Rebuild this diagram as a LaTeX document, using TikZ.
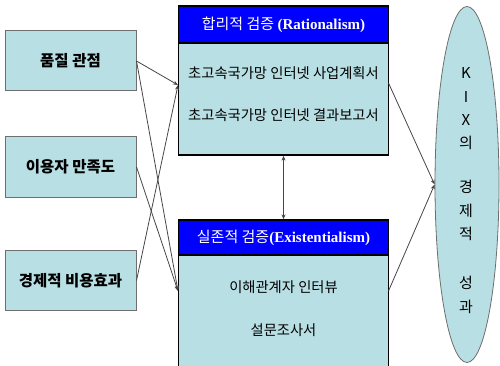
\documentclass[tikz,border=0pt]{standalone}
\usepackage{fontspec}
\setmainfont{Noto Sans CJK KR}
\newfontfamily\tms{Liberation Serif}
\usetikzlibrary{shapes.geometric,arrows.meta}
\definecolor{boxfill}{RGB}{184,223,228}
\definecolor{hdrblue}{RGB}{0,0,255}
\definecolor{lgray}{RGB}{110,110,110}
\definecolor{conn}{RGB}{70,70,70}
\begin{document}
\begin{tikzpicture}[x=1pt,y=-1pt,
  lbox/.style={draw=lgray,line width=1pt,fill=boxfill,minimum width=131pt,minimum height=60pt,inner sep=0pt,font=\fontsize{15.5}{17}\selectfont\bfseries},
  mbox/.style={draw=black,line width=1.3pt,fill=boxfill,minimum width=210pt,inner sep=0pt},
  hbox/.style={draw=black,line width=1.3pt,fill=hdrblue,minimum width=210pt,inner sep=0pt,text=white,font=\fontsize{15}{17}\selectfont},
  btxt/.style={font=\fontsize{14.3}{16}\selectfont,inner sep=0pt},
  ktxt/.style={font=\fontsize{15}{16}\selectfont,inner sep=0pt},
  conn/.style={draw=conn,line width=0.8pt,-{Stealth[length=5pt,width=4pt]}},
  dconn/.style={draw=conn,line width=0.8pt,{Stealth[length=5pt,width=4pt]}-{Stealth[length=5pt,width=4pt]}}]
\useasboundingbox (0,0) rectangle (500,366);
\clip (0,0) rectangle (500,366);
% left boxes
\node[lbox] (q) at (70.5,61) {품질 관점};
\node[lbox] (m) at (70.5,167) {이용자 만족도};
\node[lbox] (e) at (70.5,280.5) {경제적 비용효과};
% top box
\node[mbox,minimum height=149pt] (top) at (283.5,80.5) {};
\node[hbox,minimum height=37pt] (toph) at (283.5,24.5) {합리적 검증 {\tms\bfseries (Rationalism)}};
\node[btxt] (t1) at (283.5,73) {초고속국가망 인터넷 사업계획서};
\node[btxt] (t2) at (283.5,115) {초고속국가망 인터넷 결과보고서};
% bottom box
\node[mbox,minimum height=152pt] (bot) at (283.5,296) {};
\node[hbox,minimum height=35pt] (both) at (283.5,237.5) {실존적 검증{\tms\bfseries (Existentialism)}};
\node[btxt] (b1) at (283.5,287) {이해관계자 인터뷰};
\node[btxt] (b2) at (283.5,330) {설문조사서};
% ellipse
\node[ellipse,draw=lgray,line width=0.8pt,fill=boxfill,minimum width=64pt,minimum height=356pt,inner sep=0pt] (kix) at (467,184.5) {};
\foreach \t/\y [count=\i] in {K/73,I/97,X/120,의/143,경/187,제/211,적/234,성/283,과/307}
  \node[ktxt] (k\i) at (466,\y) {\t};
% connector endpoints
\coordinate (tin) at (178,85);
\coordinate (bin) at (178,291);
\coordinate (tout) at (388.5,83);
\coordinate (bout) at (388.5,291);
\draw[conn] (q.east) -- (tin);
\draw[conn] (q.east) -- (bin);
\draw[conn] (m.east) -- (bin);
\draw[conn] (e.east) -- (tin);
\draw[dconn] (top.south) -- (both.north);
\draw[conn] (tout) -- (kix.west);
\draw[conn] (bout) -- (kix.west);
\end{tikzpicture}
\end{document}
